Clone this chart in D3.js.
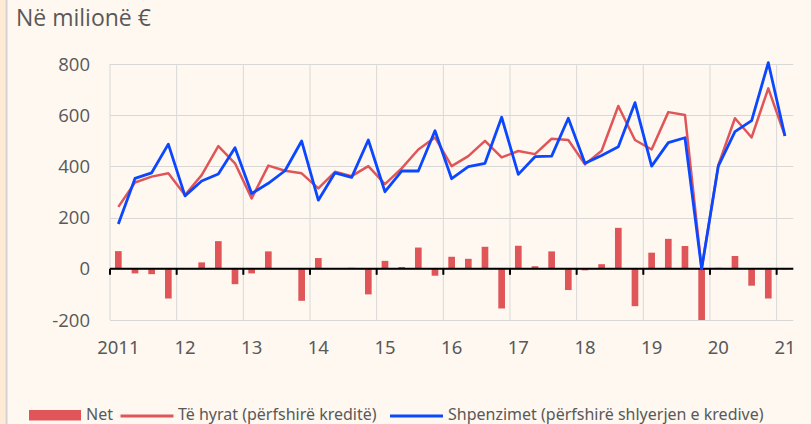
<!DOCTYPE html>
<html>
<head>
<meta charset="utf-8">
<script src="https://cdn.jsdelivr.net/npm/d3@7"></script>
<style>
  html, body { margin: 0; padding: 0; background: #FEF8F1; }
  svg { display: block; }
</style>
</head>
<body>
<div id="chart"></div>
<script>
// quarterly data, 2011 T1 .. 2021 T1
const years = ["2011", "12", "13", "14", "15", "16", "17", "18", "19", "20", "21"];

const hyrat = [242, 337, 360, 373, 288, 366, 479, 412, 275, 403, 383, 373, 314, 379, 362, 401,
  331, 392, 466, 513, 401, 440, 500, 435, 460, 448, 508, 503, 408, 461, 636, 503,
  466, 612, 601, 0, 405, 588, 513, 705, 519];

const shpenzimet = [175, 353, 375, 487, 285, 343, 370, 473, 294, 334, 383, 499, 268, 375, 357, 503,
  301, 382, 382, 539, 352, 399, 412, 592, 369, 438, 440, 588, 412, 443, 477, 649,
  401, 493, 512, 0, 401, 536, 579, 805, 519];

const net = [69, -18, -21, -116, 3, 25, 108, -60, -18, 68, 0, -125, 42, 3, 4, -100,
  31, 7, 83, -27, 47, 39, 86, -155, 90, 10, 68, -83, -6, 18, 160, -146,
  63, 117, 89, -200, 4, 50, -66, -116, -2];

const yTicks = [-200, 0, 200, 400, 600, 800];

const W = 811, H = 424;
const plotL = 110, plotR = 793.3, plotT = 64, plotB = 320;

const quarters = d3.range(hyrat.length);

const svg = d3.select("#chart").append("svg")
  .attr("width", W)
  .attr("height", H);

svg.append("rect").attr("width", W).attr("height", H).attr("fill", "#FEF8F1");
svg.append("rect").attr("width", 5.5).attr("height", H).attr("fill", "#FDEBD6");
svg.append("rect").attr("x", 5.5).attr("width", 2).attr("height", H).attr("fill", "#D3D1D1");

// title
svg.append("text")
  .attr("x", 16).attr("y", 26)
  .style("font-family", "'Open Sans'")
  .style("font-size", "23px")
  .attr("fill", "#595959")
  .text("Në milionë €");

const x = d3.scaleBand()
  .domain(quarters)
  .range([plotL, plotR])
  .padding(0);

const y = d3.scaleLinear()
  .domain([-200, 800])
  .range([plotB, plotT]);

const bw = x.bandwidth();
const yearIdx = years.map((d, i) => i * 4);

// horizontal grid
svg.append("g")
  .selectAll("line")
  .data(yTicks)
  .enter().append("line")
  .attr("x1", plotL).attr("x2", plotR)
  .attr("y1", d => Math.round(y(d)) + 0.5)
  .attr("y2", d => Math.round(y(d)) + 0.5)
  .attr("stroke", "#DAD8D6")
  .attr("stroke-width", 1);

// vertical grid at year boundaries
svg.append("g")
  .selectAll("line")
  .data(yearIdx)
  .enter().append("line")
  .attr("x1", d => x(d)).attr("x2", d => x(d))
  .attr("y1", plotT).attr("y2", plotB)
  .attr("stroke", "#DAD8D6")
  .attr("stroke-width", 1);

// y labels
svg.append("g")
  .selectAll("text")
  .data(yTicks)
  .enter().append("text")
  .attr("x", 90)
  .attr("y", d => y(d) + 6.5)
  .attr("text-anchor", "end")
  .style("font-family", "'Open Sans'")
  .style("font-size", "18.5px")
  .attr("fill", "#595959")
  .text(d => d);

// x labels
svg.append("g")
  .selectAll("text")
  .data(years)
  .enter().append("text")
  .attr("x", (d, i) => x(i * 4) + bw / 2)
  .attr("y", 354)
  .attr("text-anchor", "middle")
  .style("font-family", "'Noto Sans'")
  .style("font-size", "18.5px")
  .attr("fill", "#595959")
  .text(d => d);

// net bars
const barW = bw * 0.4;
svg.append("g")
  .selectAll("rect")
  .data(net)
  .enter().append("rect")
  .attr("x", (d, i) => x(i) + (bw - barW) / 2)
  .attr("y", d => y(Math.max(0, d)))
  .attr("width", barW)
  .attr("height", d => Math.abs(y(d) - y(0)))
  .attr("fill", "#E05558");

// zero axis with ticks
svg.append("line")
  .attr("x1", plotL).attr("x2", plotR)
  .attr("y1", y(0)).attr("y2", y(0))
  .attr("stroke", "#000").attr("stroke-width", 2);

svg.append("g")
  .selectAll("line")
  .data(yearIdx)
  .enter().append("line")
  .attr("x1", d => x(d)).attr("x2", d => x(d))
  .attr("y1", y(0)).attr("y2", y(0) + 6)
  .attr("stroke", "#000").attr("stroke-width", 2);

const line = d3.line()
  .x((d, i) => x(i) + bw / 2)
  .y(d => y(d));

svg.append("path")
  .datum(hyrat)
  .attr("d", line)
  .attr("fill", "none")
  .attr("stroke", "#E05558")
  .attr("stroke-width", 2.5)
  .attr("stroke-linejoin", "round");

svg.append("path")
  .datum(shpenzimet)
  .attr("d", line)
  .attr("fill", "none")
  .attr("stroke", "#0A47FF")
  .attr("stroke-width", 2.8)
  .attr("stroke-linejoin", "round");

// legend
const lg = svg.append("g")
  .style("font-family", "'Noto Sans'")
  .style("font-size", "16px")
  .attr("fill", "#595959");

lg.append("rect").attr("x", 29).attr("y", 410).attr("width", 52).attr("height", 10.5).attr("fill", "#E05558");
lg.append("text").attr("x", 86).attr("y", 420).text("Net");
lg.append("line").attr("x1", 120.5).attr("x2", 173.5).attr("y1", 416).attr("y2", 416)
  .attr("stroke", "#E05558").attr("stroke-width", 3);
lg.append("text").attr("x", 178).attr("y", 420).text("Të hyrat (përfshirë kreditë)");
lg.append("line").attr("x1", 390).attr("x2", 443).attr("y1", 416).attr("y2", 416)
  .attr("stroke", "#0A47FF").attr("stroke-width", 3);
lg.append("text").attr("x", 448).attr("y", 420).text("Shpenzimet (përfshirë shlyerjen e kredive)");
</script>
</body>
</html>
